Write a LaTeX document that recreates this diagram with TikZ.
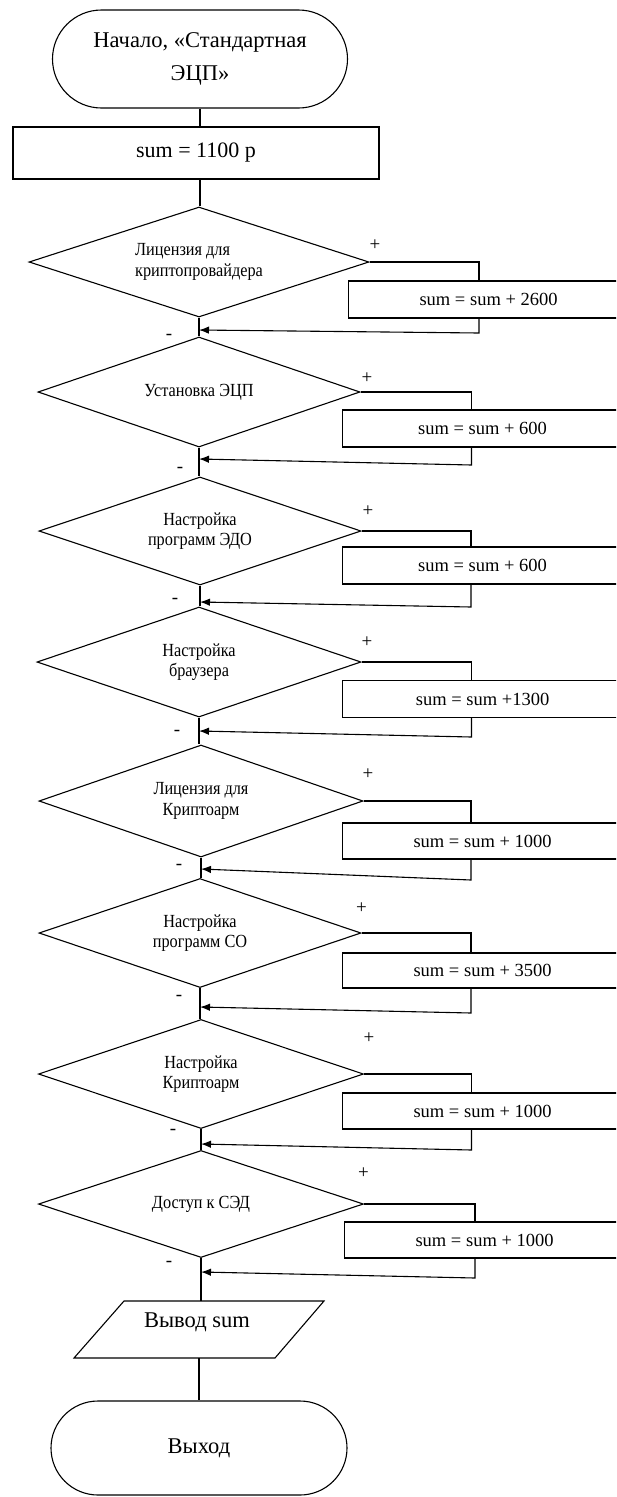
\documentclass[tikz,border=0pt]{standalone}
\usepackage{fontspec}
\setmainfont{Liberation Serif}
\newfontfamily\condfont[FakeStretch=0.88]{Liberation Serif}
\usetikzlibrary{shapes.geometric,shapes.misc,arrows.meta}
\begin{document}
\begin{tikzpicture}[x=1pt,y=-1pt,line width=1.1pt,
  term/.style={draw,rounded rectangle,inner sep=0pt,align=center,font=\fontsize{22.5}{33}\selectfont},
  proc/.style={draw,rectangle,inner sep=0pt,font=\fontsize{22}{26}\selectfont},
  dec/.style={draw,diamond,aspect=3,inner sep=0pt,align=center,minimum height=110pt,font=\condfont\fontsize{18.5}{20.5}\selectfont},
  addbox/.style={draw,rectangle,inner sep=0pt,minimum width=280pt,minimum height=37pt,anchor=west,font=\fontsize{18.5}{22}\selectfont},
  sgn/.style={inner sep=0pt,font=\fontsize{19}{20}\selectfont},
  ret/.style={-{Latex[length=10pt,width=7.5pt]}},
  txt/.style={inner sep=0pt,font=\fontsize{22.5}{26}\selectfont}]
\useasboundingbox (0,0) rectangle (616,1497);
\clip (0,0) rectangle (616,1497);

% start and init
\node[term,minimum width=295pt,minimum height=98pt] (start) at (200,59) {Начало, «Стандартная\\ЭЦП»};
\node[proc,minimum width=366pt,minimum height=52pt] (init) at (196,153) {sum = 1100 р};

% decisions
\node[dec,minimum width=340pt,align=left] (d1) at (199,262) {Лицензия для\\криптопровайдера};
\node[dec,minimum width=322pt] (d2) at (199,392) {Установка ЭЦП};
\node[dec,minimum width=322pt,minimum height=108pt] (d3) at (200,531) {Настройка\\программ ЭДО};
\node[dec,minimum width=324pt] (d4) at (199,662) {Настройка\\браузера};
\node[dec,minimum width=324pt,minimum height=112pt] (d5) at (201,801) {Лицензия для\\Криптоарм};
\node[dec,minimum width=322pt,minimum height=109pt] (d6) at (200,933) {Настройка\\программ СО};
\node[dec,minimum width=325pt,minimum height=109pt] (d7) at (201,1074) {Настройка\\Криптоарм};
\node[dec,minimum width=325pt,minimum height=107pt] (d8) at (201,1204) {Доступ к СЭД};

% addition boxes
\node[addbox] (b1) at (348,299.5) {sum = sum + 2600};
\node[addbox] (b2) at (342,428.5) {sum = sum + 600};
\node[addbox] (b3) at (342,565.5) {sum = sum + 600};
\node[addbox] (b4) at (342,699) {sum = sum +1300};
\node[addbox,minimum height=36pt] (b5) at (342,841) {sum = sum + 1000};
\node[addbox,minimum height=35pt] (b6) at (342,970.5) {sum = sum + 3500};
\node[addbox,minimum height=36pt] (b7) at (342,1111) {sum = sum + 1000};
\node[addbox,minimum height=36pt] (b8) at (344,1240) {sum = sum + 1000};

% output and end
\coordinate (pa) at (124,1301);
\coordinate (pb) at (324,1301);
\coordinate (pc) at (275,1358);
\coordinate (pd) at (74,1358);
\draw (pa) -- (pb) -- (pc) -- (pd) -- cycle;
\node[txt] (out) at (197,1322) {Вывод sum};
\coordinate (outtop) at (200,1301);
\coordinate (outbot) at (199,1358);
\node[term,minimum width=296pt,minimum height=94pt] (stop) at (199,1448) {Выход};

% main axis
\draw (start.south) -- (start.south |- init.north);
\draw (start.south |- init.south) -- (start.south |- d1.north);
\draw (d1.south) -- (d1.south |- d2.north);
\draw (d2.south) -- (d2.south |- d3.north);
\draw (d3.south) -- (d3.south |- d4.north);
\draw (d4.south) -- (d4.south |- d5.north);
\draw (d5.south) -- (d5.south |- d6.north);
\draw (d6.south) -- (d6.south |- d7.north);
\draw (d7.south) -- (d7.south |- d8.north);
\draw (d8.south) -- (d8.south |- outtop);
\draw (outbot) -- (outbot |- stop.north);

% yes branches and returns
\foreach \i/\cx/\rb/\ay in {1/479/333/330,2/471.5/465/459,3/471/607/602,4/471.5/737/731,5/471/880/869,6/471/1013/1007,7/471.5/1150/1144,8/475/1278/1272}{
  \coordinate (c\i) at (\cx,0);
  \draw (d\i.east) -- (c\i |- d\i.east) -- (c\i |- b\i.north);
  \coordinate (r\i) at (\cx,\rb);
  \coordinate (m\i) at (d\i.south |- 0,\ay);
  \draw[ret] (c\i |- b\i.south) -- (r\i) -- (m\i);
}

% + / - labels
\foreach \i/\px/\py/\mx/\my in {1/375/245/169/337,2/367/378/180/470,3/368/511/175/601,4/367/642/177/733,5/368/774/179/867,6/361.5/908/179/998,7/369/1038/173/1132,8/363.5/1173/169/1264}{
  \node[sgn] (p\i) at (\px,\py) {+};
  \node[sgn] (n\i) at (\mx,\my) {-};
}
\end{tikzpicture}
\end{document}
